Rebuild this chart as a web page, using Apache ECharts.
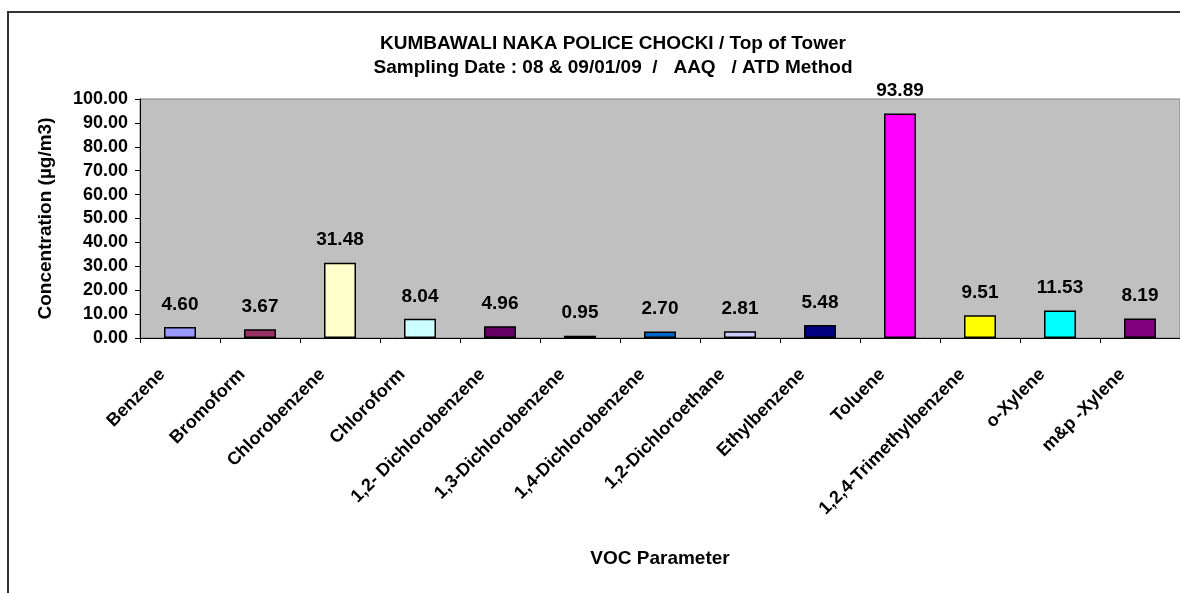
<!DOCTYPE html>
<html>
<head>
<meta charset="utf-8">
<script src="https://cdn.jsdelivr.net/npm/echarts@6/dist/echarts.min.js"></script>
<style>
html,body{margin:0;padding:0;background:#fff;}
#c{width:1180px;height:593px;}
</style>
</head>
<body>
<div id="c"></div>
<script>
var categories = ["Benzene","Bromoform","Chlorobenzene","Chloroform","1,2- Dichlorobenzene","1,3-Dichlorobenzene","1,4-Dichlorobenzene","1,2-Dichloroethane","Ethylbenzene","Toluene","1,2,4-Trimethylbenzene","o-Xylene","m&p -Xylene"];
var values = [4.60, 3.67, 31.48, 8.04, 4.96, 0.95, 2.70, 2.81, 5.48, 93.89, 9.51, 11.53, 8.19];
var barColors = ["#9999FF","#993366","#FFFFCC","#CCFFFF","#660066","#000000","#0066CC","#CCCCFF","#000080","#FF00FF","#FFFF00","#00FFFF","#800080"];
var yMin = 0, yMax = 100, yInterval = 10;
var titleLines = ["KUMBAWALI NAKA POLICE CHOCKI / Top of Tower", "Sampling Date : 08 & 09/01/09  /   AAQ   / ATD Method"];
var yName = "Concentration (\u00b5g/m3)";
var xName = "VOC Parameter";

var FONT = "'Liberation Sans', Arial, sans-serif";
var chart = echarts.init(document.getElementById('c'), null, {renderer:'canvas'});
chart.setOption({
  animation:false,
  backgroundColor:'#ffffff',
  graphic:[{type:'rect', shape:{x:8, y:12, width:1200, height:620}, style:{fill:'none', stroke:'#333333', lineWidth:2}, silent:true, z:-1}],
  title:{
    text: titleLines.join('\n'),
    left: 608, top: 27, textAlign:'center',
    textStyle:{fontFamily:FONT, fontWeight:'bold', fontSize:19, lineHeight:24, color:'#000'}
  },
  grid:{left:140, top:99, width:1042, height:239, show:true, backgroundColor:'#C0C0C0', borderColor:'#808080', borderWidth:1, containLabel:false},
  xAxis:{
    type:'category', data:categories,
    name:xName, nameLocation:'middle', nameGap:211,
    nameTextStyle:{fontFamily:FONT, fontWeight:'bold', fontSize:19, color:'#000'},
    axisLine:{lineStyle:{color:'#000', width:1}},
    axisTick:{show:true, alignWithLabel:false, inside:false, length:5, lineStyle:{color:'#000'}},
    axisLabel:{rotate:45, interval:0, margin:16, padding:[0,25,0,0], fontFamily:FONT, fontWeight:'bold', fontSize:18, color:'#000'},
    splitLine:{show:false}
  },
  yAxis:{
    type:'value', min:yMin, max:yMax, interval:yInterval,
    name:yName, nameLocation:'middle', nameGap:85, nameRotate:90,
    nameTextStyle:{fontFamily:FONT, fontWeight:'bold', fontSize:19, color:'#000'},
    axisLine:{show:true, lineStyle:{color:'#000', width:1}},
    axisTick:{show:true, length:5, lineStyle:{color:'#000'}},
    axisLabel:{margin:12, formatter:function(v){return v.toFixed(2);}, fontFamily:FONT, fontWeight:'bold', fontSize:18, color:'#000'},
    splitLine:{show:false}
  },
  series:[{
    type:'bar',
    barWidth:'40%',
    data: values.map(function(v,i){return {value:v, itemStyle:{color:barColors[i]}};}),
    itemStyle:{borderColor:'#000', borderWidth:1.5},
    label:{show:true, position:'top', distance:13, formatter:function(p){return p.value.toFixed(2);}, fontFamily:FONT, fontWeight:'bold', fontSize:19, color:'#000'}
  }]
});
</script>
</body>
</html>
